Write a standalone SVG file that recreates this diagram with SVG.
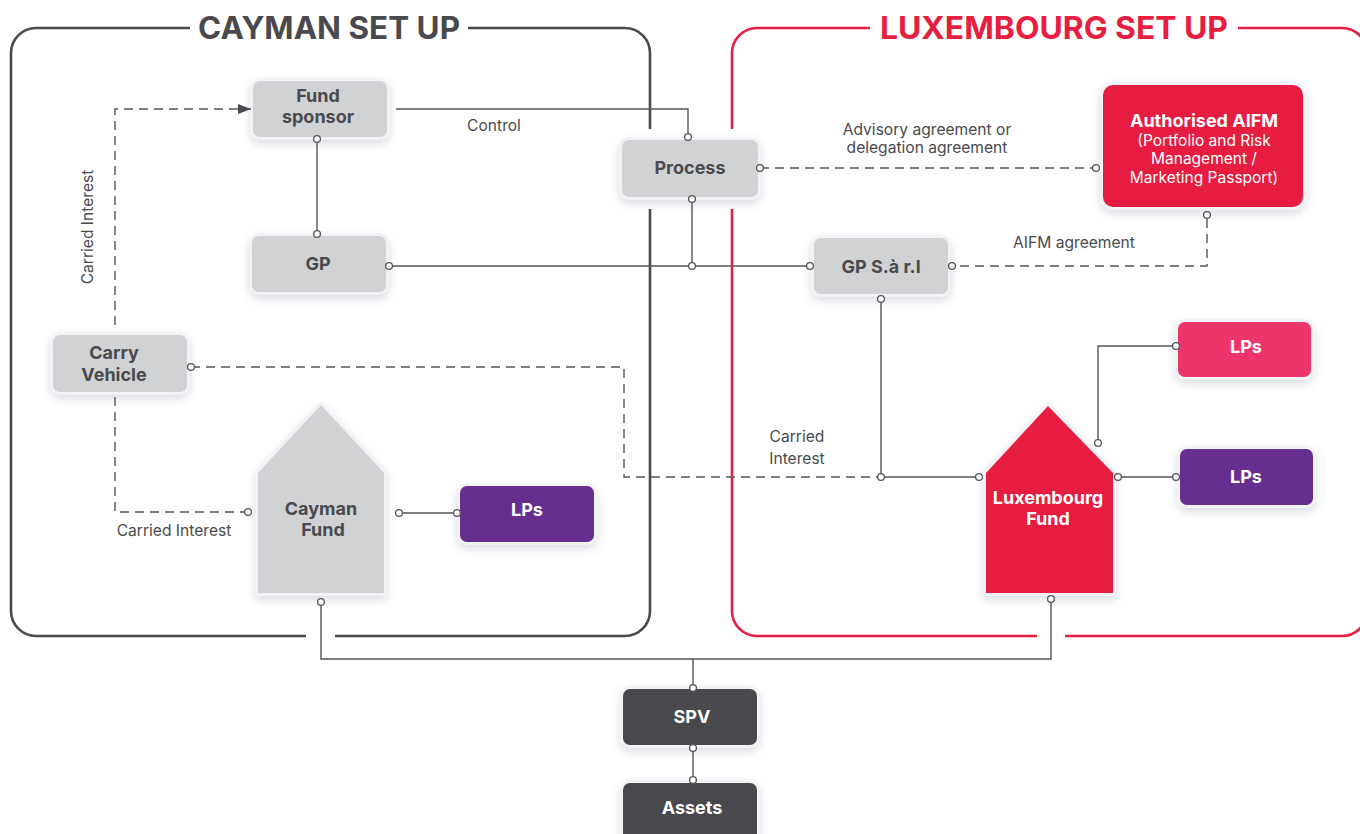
<svg xmlns="http://www.w3.org/2000/svg" width="1360" height="834" viewBox="0 0 1360 834">
  <defs>
    <filter id="shadow" x="-30%" y="-30%" width="160%" height="170%">
      <feDropShadow dx="0" dy="4" stdDeviation="5" flood-color="#7d879a" flood-opacity="0.28"/>
    </filter>
    <marker id="arrow" markerUnits="userSpaceOnUse" markerWidth="14" markerHeight="12" refX="13" refY="5" orient="auto">
      <path d="M0,0 L13,5 L0,10 Z" fill="#4a4a4e"/>
    </marker>
    <style>
      .frame { fill: none; stroke-width: 2.6; }
      .cay { stroke: #4a4a4e; }
      .lux { stroke: #e61f40; }
      .title { font-family: Inter, "Noto Sans", sans-serif; font-weight: 700; font-size: 31px; text-anchor: middle; }
      .box { stroke: #f1f3f6; stroke-width: 6; paint-order: stroke; filter: url(#shadow); }
      .grey { fill: #d1d2d4; }
      .red { fill: #e61f40; }
      .pink { fill: #ee346a; }
      .purple { fill: #662d8e; }
      .dark { fill: #4a4a4e; }
      .nt { font-family: Inter, "Noto Sans", sans-serif; font-weight: 700; font-size: 18px; text-anchor: middle; fill: #4a4a4e; }
      .wt { fill: #ffffff; }
      .sub { font-weight: 400; font-size: 15.5px; }
      .lbl { font-family: Inter, "Noto Sans", sans-serif; font-size: 15.6px; fill: #4a4a4e; text-anchor: middle; }
      .conn { fill: none; stroke: #555559; stroke-width: 1.4; }
      .dash { stroke-dasharray: 9 6; }
      .dot { fill: #ffffff; stroke: #555559; stroke-width: 1.3; }
    </style>
  </defs>

  <rect width="1360" height="834" fill="#ffffff"/>

  <!-- Regional frames -->
  <g id="cayman-frame">
    <path class="frame cay" d="M468 28 H625 A25 25 0 0 1 650 53 V129 M650 209 V611 A25 25 0 0 1 625 636 H335 M306 636 H36 A25 25 0 0 1 11 611 V53 A25 25 0 0 1 36 28 H190"/>
    <text class="title" x="329" y="39" fill="#4a4a4e" textLength="262" lengthAdjust="spacingAndGlyphs">CAYMAN SET UP</text>
  </g>
  <g id="luxembourg-frame">
    <path class="frame lux" d="M870 28 H757 A25 25 0 0 0 732 53 V129 M732 209 V611 A25 25 0 0 0 757 636 H1037 M1065 636 H1342 A25 25 0 0 0 1367 611 V53 A25 25 0 0 0 1342 28 H1238"/>
    <text class="title" x="1054" y="39" fill="#e61f40" textLength="348" lengthAdjust="spacingAndGlyphs">LUXEMBOURG SET UP</text>
  </g>

  <!-- Nodes -->
  <g id="fund-sponsor">
    <rect class="box grey" x="253" y="81" width="134" height="56" rx="7"/>
    <text class="nt" x="318" y="102">Fund</text>
    <text class="nt" x="318" y="123">sponsor</text>
  </g>
  <g id="gp">
    <rect class="box grey" x="252" y="236" width="134" height="56" rx="7"/>
    <text class="nt" x="318" y="270">GP</text>
  </g>
  <g id="process">
    <rect class="box grey" x="622" y="140" width="136" height="57" rx="7"/>
    <text class="nt" x="690" y="174">Process</text>
  </g>
  <g id="authorised-aifm">
    <rect class="box red" x="1103" y="85" width="200" height="122" rx="10"/>
    <text class="nt wt" x="1204" y="127">Authorised AIFM</text>
    <text class="nt wt sub" x="1204" y="146">(Portfolio and Risk</text>
    <text class="nt wt sub" x="1204" y="164">Management /</text>
    <text class="nt wt sub" x="1204" y="183">Marketing Passport)</text>
  </g>
  <g id="gp-sarl">
    <rect class="box grey" x="814" y="238" width="134" height="56" rx="7"/>
    <text class="nt" x="881" y="273">GP S.à r.l</text>
  </g>
  <g id="carry-vehicle">
    <rect class="box grey" x="53" y="335" width="134" height="57" rx="7"/>
    <text class="nt" x="114" y="359">Carry</text>
    <text class="nt" x="114" y="381">Vehicle</text>
  </g>
  <g id="cayman-fund">
    <polygon class="box grey" points="321,405 384,473 384,593 258,593 258,473"/>
    <text class="nt" x="321" y="515">Cayman</text>
    <text class="nt" x="323" y="536">Fund</text>
  </g>
  <g id="cayman-lps">
    <rect class="box purple" x="460" y="486" width="134" height="56" rx="7"/>
    <text class="nt wt" x="527" y="516">LPs</text>
  </g>
  <g id="luxembourg-fund">
    <polygon class="box red" points="1048,406 1113,473 1113,593 986,593 986,473"/>
    <text class="nt wt" x="1048" y="504">Luxembourg</text>
    <text class="nt wt" x="1048" y="525">Fund</text>
  </g>
  <g id="luxembourg-lps-pink">
    <rect class="box pink" x="1178" y="322" width="133" height="55" rx="7"/>
    <text class="nt wt" x="1246" y="353">LPs</text>
  </g>
  <g id="luxembourg-lps-purple">
    <rect class="box purple" x="1180" y="449" width="133" height="56" rx="7"/>
    <text class="nt wt" x="1246" y="483">LPs</text>
  </g>
  <g id="spv">
    <rect class="box dark" x="623" y="689" width="134" height="56" rx="7"/>
    <text class="nt wt" x="692" y="723">SPV</text>
  </g>
  <g id="assets">
    <rect class="box dark" x="623" y="783" width="134" height="62" rx="7"/>
    <text class="nt wt" x="692" y="814">Assets</text>
  </g>

  <!-- Connectors, drawn above the nodes so the port rings stay visible -->
  <g id="connectors">
    <path class="conn" d="M396 109 H688 V137"/>
    <path class="conn" d="M317 138 V234"/>
    <path class="conn" d="M389 266 H810"/>
    <path class="conn" d="M692 199 V266"/>
    <path class="conn" d="M881 299 V477 H979"/>
    <path class="conn" d="M1118 477 H1176"/>
    <path class="conn" d="M1098 443 V346 H1176"/>
    <path class="conn" d="M399 513 H457"/>
    <path class="conn" d="M321 602 V659 H1051 V599"/>
    <path class="conn" d="M693 659 V688"/>
    <path class="conn" d="M693 748 V780"/>

    <path class="conn dash" d="M760 168 H1096"/>
    <path class="conn dash" d="M1207 219 V266 H952"/>
    <path class="conn dash" d="M191 367 H624 V477 H881"/>
    <path class="conn dash" d="M115 325 V109 H251" marker-end="url(#arrow)"/>
    <path class="conn dash" d="M115 397 V512 H248"/>

    <g id="ports">
      <circle class="dot" cx="688" cy="137" r="3.4"/>
      <circle class="dot" cx="317" cy="139" r="3.4"/>
      <circle class="dot" cx="317" cy="234" r="3.4"/>
      <circle class="dot" cx="389" cy="266" r="3.4"/>
      <circle class="dot" cx="692" cy="266" r="3.4"/>
      <circle class="dot" cx="810" cy="266" r="3.4"/>
      <circle class="dot" cx="692" cy="199" r="3.4"/>
      <circle class="dot" cx="760" cy="168" r="3.4"/>
      <circle class="dot" cx="1096" cy="168" r="3.4"/>
      <circle class="dot" cx="1207" cy="215" r="3.4"/>
      <circle class="dot" cx="952" cy="266" r="3.4"/>
      <circle class="dot" cx="881" cy="299" r="3.4"/>
      <circle class="dot" cx="881" cy="477" r="3.4"/>
      <circle class="dot" cx="979" cy="477" r="3.4"/>
      <circle class="dot" cx="1118" cy="477" r="3.4"/>
      <circle class="dot" cx="1176" cy="477" r="3.4"/>
      <circle class="dot" cx="1098" cy="443" r="3.4"/>
      <circle class="dot" cx="1176" cy="346" r="3.4"/>
      <circle class="dot" cx="191" cy="367" r="3.4"/>
      <circle class="dot" cx="248" cy="512" r="3.4"/>
      <circle class="dot" cx="399" cy="513" r="3.4"/>
      <circle class="dot" cx="457" cy="513" r="3.4"/>
      <circle class="dot" cx="321" cy="602" r="3.4"/>
      <circle class="dot" cx="1051" cy="599" r="3.4"/>
      <circle class="dot" cx="693" cy="688" r="3.4"/>
      <circle class="dot" cx="693" cy="748" r="3.4"/>
      <circle class="dot" cx="693" cy="780" r="3.4"/>
    </g>

    <g id="connector-labels">
      <text class="lbl" x="494" y="131">Control</text>
      <text class="lbl" x="927" y="135">Advisory agreement or</text>
      <text class="lbl" x="927" y="153">delegation agreement</text>
      <text class="lbl" x="1074" y="248">AIFM agreement</text>
      <text class="lbl" x="797" y="442">Carried</text>
      <text class="lbl" x="797" y="464">Interest</text>
      <text class="lbl" x="174" y="536">Carried Interest</text>
      <text class="lbl" transform="translate(93 227) rotate(-90)">Carried Interest</text>
    </g>
  </g>
</svg>
